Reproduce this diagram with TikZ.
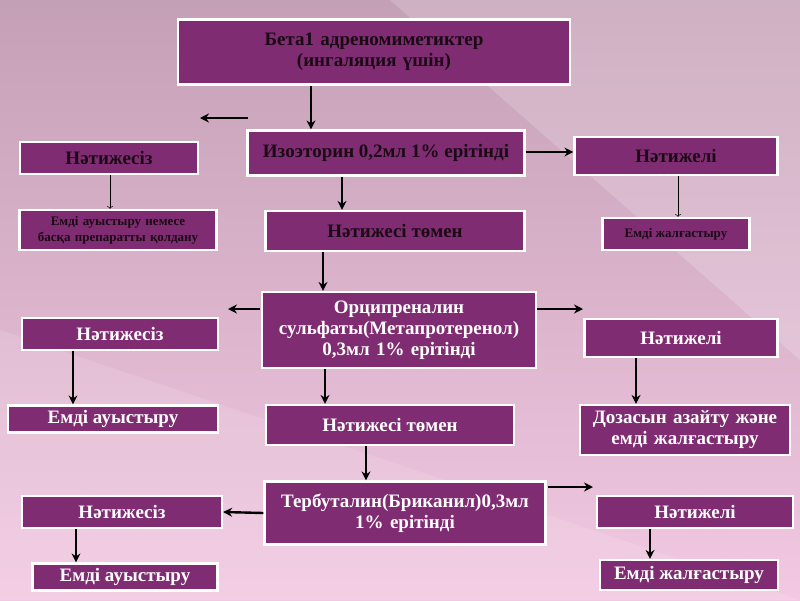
\documentclass[tikz,border=0pt]{standalone}
\usepackage{fontspec}
\setmainfont{Liberation Serif}
\usepackage{xcolor}
\definecolor{plum}{RGB}{128,44,114}
\definecolor{mauvetop}{RGB}{196,160,182}
\definecolor{pinkbot}{RGB}{242,200,226}
\definecolor{darktext}{RGB}{25,10,20}
\tikzset{
  box/.style={draw=white, line width=2.2pt, fill=plum, align=center, inner sep=1pt,
    font=\bfseries\fontsize{19}{21}\selectfont, text=white},
  dark/.style={text=darktext},
  small/.style={font=\bfseries\fontsize{13}{16}\selectfont},
  flow/.style={->, >={Stealth[length=9pt,width=9pt]}, line width=2.4pt},
  thin/.style={->, line width=0.5pt}
}
\usetikzlibrary{arrows.meta}
\begin{document}
\begin{tikzpicture}[x=1pt, y=-1pt]
  \useasboundingbox (0,0) rectangle (800,600);
  \shade[top color=mauvetop, bottom color=pinkbot] (0,0) rectangle (800,600);
  \fill[white, opacity=0.18] (390,0) -- (800,0) -- (800,360) -- cycle;
  \fill[white, opacity=0.12] (0,330) -- (800,600) -- (0,600) -- cycle;
  % top
  \node[box, dark, minimum width=392, minimum height=65, text width=345] (beta) at (374,52)
    {Бета1 адреномиметиктер (ингаляция үшін)};
  \node[box, dark, minimum width=277, minimum height=45] (izo) at (386,153) {Изоэторин 0,2мл 1\% ерітінді};
  \node[box, dark, minimum width=178, minimum height=32] (no1) at (109,158) {Нәтижесіз};
  \node[box, dark, small, minimum width=197, minimum height=40, text width=192] (no1b) at (118,230)
    {Емді ауыстыру немесе басқа препаратты қолдану};
  \node[box, dark, minimum width=203, minimum height=38] (yes1) at (676,156) {Нәтижелі};
  \node[box, dark, small, minimum width=147, minimum height=32] (yes1b) at (676,234) {Емді жалғастыру};
  \node[box, dark, minimum width=259, minimum height=40] (low1) at (395,231) {Нәтижесі төмен};
  % middle
  \node[box, minimum width=274, minimum height=76, text width=270] (orc) at (399,330)
    {Орципреналин\\сульфаты(Метапротеренол)\\0,3мл 1\% ерітінді};
  \node[box, minimum width=196, minimum height=32] (no2) at (120,334) {Нәтижесіз};
  \node[box, minimum width=210, minimum height=27] (no2b) at (113,419) {Емді ауыстыру};
  \node[box, minimum width=193, minimum height=38] (yes2) at (681,338) {Нәтижелі};
  \node[box, minimum width=210, minimum height=50, text width=208] (yes2b) at (685,430)
    {Дозасын азайту және емді жалғастыру};
  \node[box, minimum width=248, minimum height=40] (low2) at (390,425) {Нәтижесі төмен};
  % bottom
  \node[box, minimum width=281, minimum height=63, text width=277] (ter) at (405,513)
    {Тербуталин(Бриканил)0,3мл 1\% ерітінді};
  \node[box, minimum width=200, minimum height=32] (no3) at (122,512) {Нәтижесіз};
  \node[box, minimum width=185, minimum height=27] (no3b) at (125,577) {Емді ауыстыру};
  \node[box, minimum width=196, minimum height=32] (yes3) at (695,512) {Нәтижелі};
  \node[box, minimum width=178, minimum height=30] (yes3b) at (689,575) {Емді жалғастыру};
  % free ends
  \coordinate (l1a) at (248,118); \coordinate (l1b) at (200,118);
  \coordinate (l2a) at (260,309); \coordinate (l2b) at (228,309);
  \coordinate (r2a) at (537,309); \coordinate (r2b) at (583,309);
  \coordinate (r3a) at (548,487); \coordinate (r3b) at (593,487);
  % arrows
  \draw[flow] (beta.south -| 311,0) -- (izo.north -| 311,0);
  \draw[flow] (l1a) -- (l1b);
  \draw[flow] (izo.east |- 0,152) -- (yes1.west |- 0,152);
  \draw[flow] (izo.south -| 342,0) -- (low1.north -| 342,0);
  \draw[thin] (no1.south -| 110,0) -- (no1b.north -| 110,0);
  \draw[thin] (yes1.south -| 678,0) -- (yes1b.north -| 678,0);
  \draw[flow] (low1.south -| 323,0) -- (orc.north -| 323,0);
  \draw[flow] (l2a) -- (l2b);
  \draw[flow] (r2a) -- (r2b);
  \draw[flow] (no2.south -| 73,0) -- (no2b.north -| 73,0);
  \draw[flow] (yes2.south -| 636,0) -- (yes2b.north -| 636,0);
  \draw[flow] (orc.south -| 325,0) -- (low2.north -| 325,0);
  \draw[flow] (low2.south -| 366,0) -- (ter.north -| 366,0);
  \draw[flow] (ter.west) -- (no3.east);
  \draw[flow] (r3a) -- (r3b);
  \draw[flow] (no3.south -| 76,0) -- (no3b.north -| 76,0);
  \draw[flow] (yes3.south -| 650,0) -- (yes3b.north -| 650,0);
\end{tikzpicture}
\end{document}
